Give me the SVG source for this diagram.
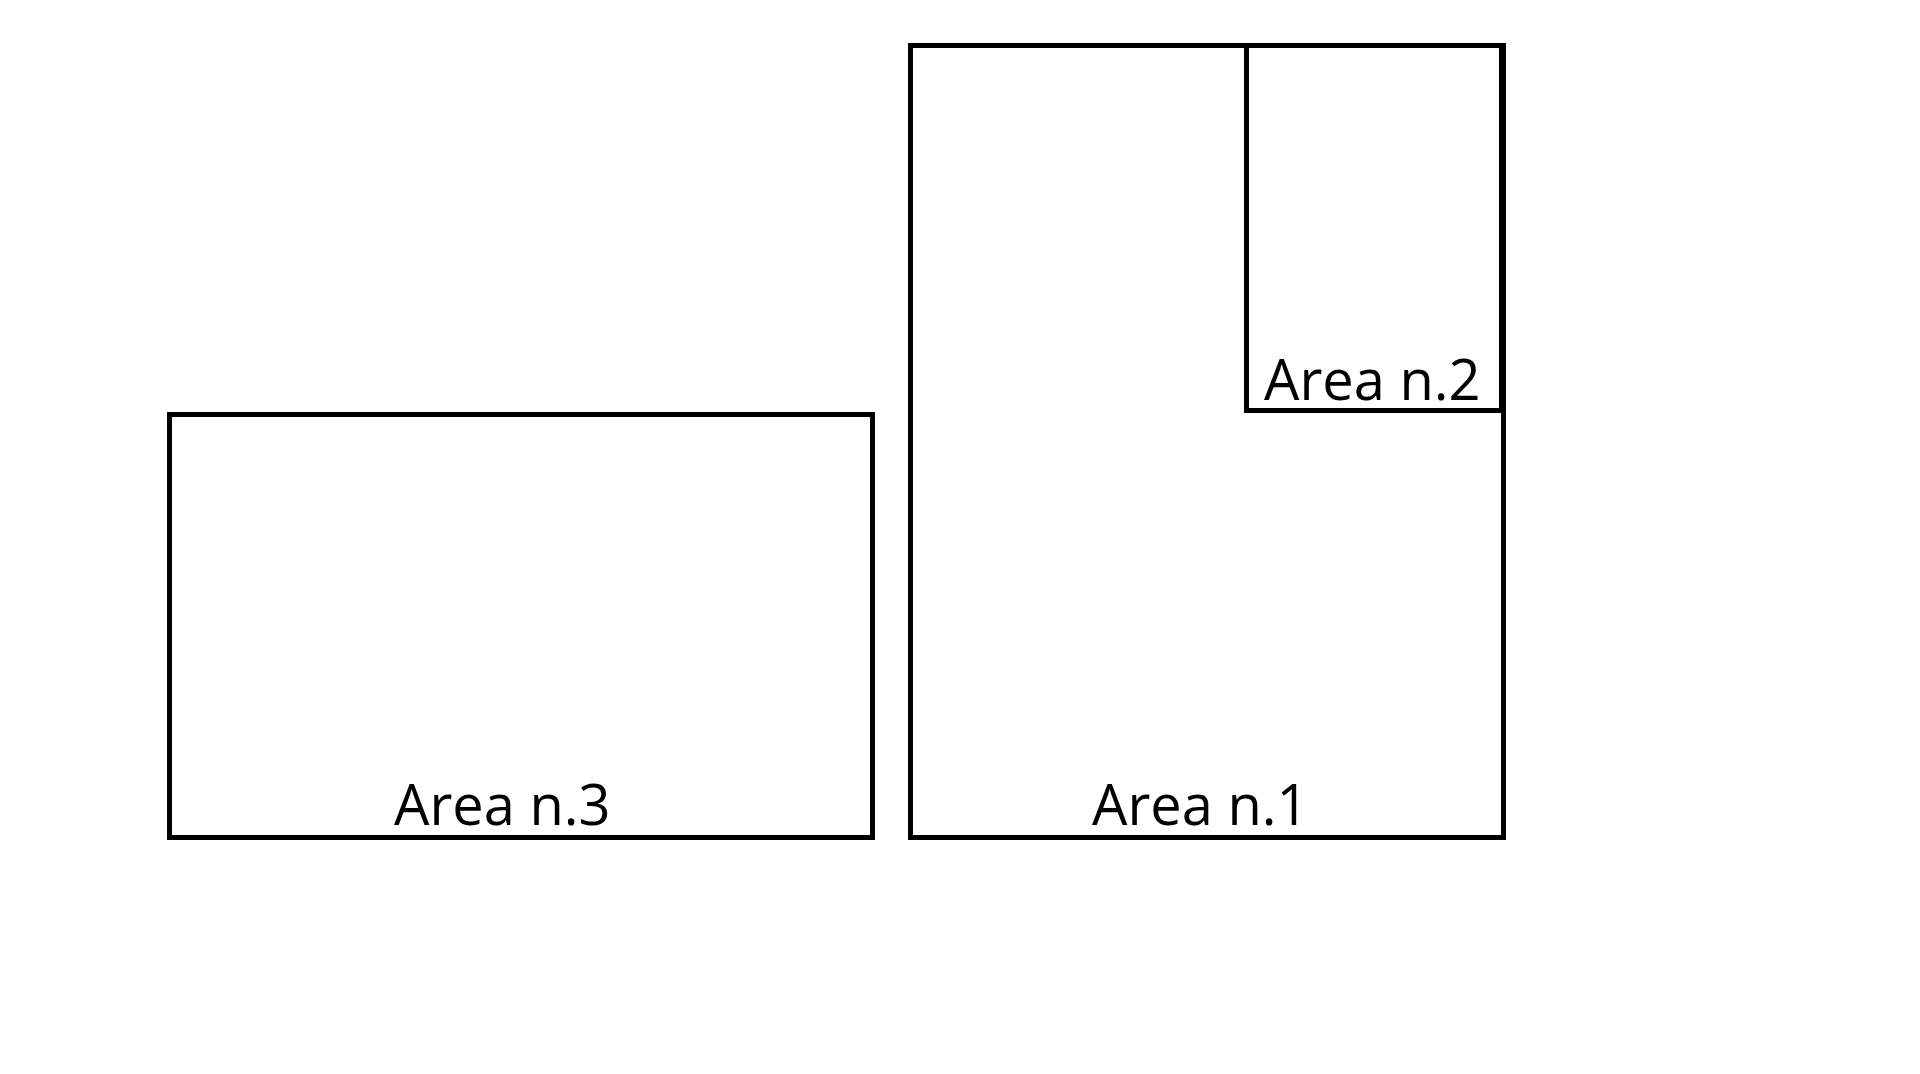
<svg xmlns="http://www.w3.org/2000/svg" width="1920" height="1074" viewBox="0 0 1920 1074">
<style>
.box{fill:none;stroke:#000;stroke-width:5}
.lbl{font-family:"Open Sans","Noto Sans",sans-serif;font-size:56px;fill:#000}
</style>
<rect width="1920" height="1074" fill="#fff"/>
<g id="area3">
<rect class="box" x="169.5" y="414.5" width="703" height="423"/>
<text class="lbl" x="394" y="825">Area n.3</text>
</g>
<g id="area1">
<rect class="box" x="910.5" y="45.5" width="593" height="792"/>
<text class="lbl" x="1092" y="825">Area n.1</text>
</g>
<g id="area2">
<rect class="box" x="1246.5" y="45.5" width="255" height="365"/>
<text class="lbl" x="1264" y="400">Area n.2</text>
</g>
<g id="connectors"></g>
</svg>
